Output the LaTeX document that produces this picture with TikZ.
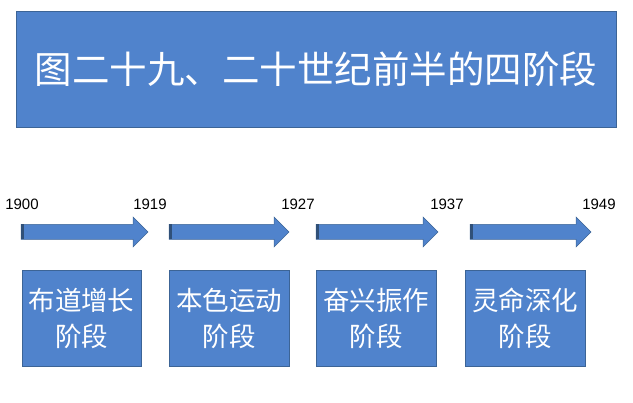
\documentclass[tikz,border=0pt]{standalone}
\usepackage{fontspec}
\setmainfont{Liberation Sans}
\newfontfamily\cjk{Noto Sans CJK SC}
\definecolor{bfill}{RGB}{80,131,204}
\definecolor{bdraw}{RGB}{60,100,150}
\tikzset{x=1pt,y=-1pt,
 box/.style={draw=bdraw,fill=bfill,line width=0.8pt,text=white,inner sep=0pt},
 yr/.style={font=\fontsize{15}{17}\selectfont,anchor=center},
 arr/.style={draw=bdraw,fill=bfill,line width=0.5pt}}
\begin{document}
\begin{tikzpicture}
\useasboundingbox (0,0) rectangle (633,403);
\node[box,minimum width=600,minimum height=116,font=\cjk\fontsize{37.5}{42}\selectfont] (t) at (316,69) {图二十九、二十世纪前半的四阶段};
\foreach \n/\xa/\xb/\lab in {1/22/141/{布道增长},2/169/289/{本色运动},3/316/436/{奋兴振作},4/465/585/{灵命深化}}{
  \node[box,minimum width=\xb-\xa,minimum height=96,align=center,font=\cjk\fontsize{26.5}{36}\selectfont] (b\n) at ({(\xa+\xb)/2},318) {\lab\\阶段};
}
\foreach \n/\xa/\xb in {1/21/148,2/169/289,3/316/438,4/470/591}{
  \draw[arr] (\xa,224.5) -- (\xb-15,224.5) -- (\xb-15,217) -- (\xb,232) -- (\xb-15,247) -- (\xb-15,239.5) -- (\xa,239.5) -- cycle;
  \fill[bdraw!80!black] (\xa,224.5) rectangle (\xa+2.5,239.5);
}
\node[yr] (y1) at (22,204) {1900};
\node[yr] (y2) at (150,204) {1919};
\node[yr] (y3) at (298,204) {1927};
\node[yr] (y4) at (447,204) {1937};
\node[yr] (y5) at (599,204) {1949};
\end{tikzpicture}
\end{document}
